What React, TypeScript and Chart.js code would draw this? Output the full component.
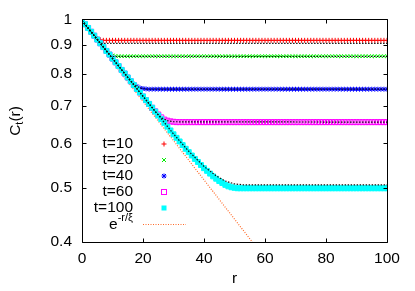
import React, { useEffect, useRef } from 'react';
import { Chart, registerables } from 'chart.js';
Chart.register(...registerables);

// r grid (categories along the x axis)
const R = Array.from({ length: 101 }, (_, i) => i);

const T10 = [
  1.000, 0.980, 0.965, 0.950, 0.935, 0.924, 0.919, 0.917, 0.917, 0.917,
  0.917, 0.917, 0.917, 0.917, 0.917, 0.917, 0.917, 0.917, 0.917, 0.917,
  0.917, 0.917, 0.917, 0.917, 0.917, 0.917, 0.917, 0.917, 0.917, 0.917,
  0.917, 0.917, 0.917, 0.917, 0.917, 0.917, 0.917, 0.917, 0.917, 0.917,
  0.917, 0.917, 0.917, 0.917, 0.917, 0.917, 0.917, 0.917, 0.917, 0.917,
  0.917, 0.917, 0.917, 0.917, 0.917, 0.917, 0.917, 0.917, 0.917, 0.917,
  0.917, 0.917, 0.917, 0.917, 0.917, 0.917, 0.917, 0.917, 0.917, 0.917,
  0.917, 0.917, 0.917, 0.917, 0.917, 0.917, 0.917, 0.917, 0.917, 0.917,
  0.917, 0.917, 0.917, 0.917, 0.917, 0.917, 0.917, 0.917, 0.917, 0.917,
  0.917, 0.917, 0.917, 0.917, 0.917, 0.917, 0.917, 0.917, 0.917, 0.917,
  0.917,
];

const T20 = [
  1.000, 0.980, 0.965, 0.950, 0.935, 0.920, 0.906, 0.893, 0.880, 0.868,
  0.862, 0.860, 0.859, 0.859, 0.859, 0.859, 0.859, 0.859, 0.859, 0.859,
  0.859, 0.859, 0.859, 0.859, 0.859, 0.859, 0.859, 0.859, 0.859, 0.859,
  0.859, 0.859, 0.859, 0.859, 0.859, 0.859, 0.859, 0.859, 0.859, 0.859,
  0.859, 0.859, 0.859, 0.859, 0.859, 0.859, 0.859, 0.859, 0.859, 0.859,
  0.859, 0.859, 0.859, 0.859, 0.859, 0.859, 0.859, 0.859, 0.859, 0.859,
  0.859, 0.859, 0.859, 0.859, 0.859, 0.859, 0.859, 0.859, 0.859, 0.859,
  0.859, 0.859, 0.859, 0.859, 0.859, 0.859, 0.859, 0.859, 0.859, 0.859,
  0.859, 0.859, 0.859, 0.859, 0.859, 0.859, 0.859, 0.859, 0.859, 0.859,
  0.859, 0.859, 0.859, 0.859, 0.859, 0.859, 0.859, 0.859, 0.859, 0.859,
  0.859,
];

const T40 = [
  1.000, 0.980, 0.965, 0.950, 0.935, 0.920, 0.906, 0.892, 0.878, 0.865,
  0.851, 0.838, 0.825, 0.812, 0.800, 0.788, 0.777, 0.767, 0.759, 0.754,
  0.752, 0.751, 0.750, 0.750, 0.750, 0.750, 0.750, 0.750, 0.750, 0.750,
  0.750, 0.750, 0.750, 0.750, 0.750, 0.750, 0.750, 0.750, 0.750, 0.750,
  0.750, 0.750, 0.750, 0.750, 0.750, 0.750, 0.750, 0.750, 0.750, 0.750,
  0.750, 0.750, 0.750, 0.750, 0.750, 0.750, 0.750, 0.750, 0.750, 0.750,
  0.750, 0.750, 0.750, 0.750, 0.750, 0.750, 0.750, 0.750, 0.750, 0.750,
  0.750, 0.750, 0.750, 0.750, 0.750, 0.750, 0.750, 0.750, 0.750, 0.750,
  0.750, 0.750, 0.750, 0.750, 0.750, 0.750, 0.750, 0.750, 0.750, 0.750,
  0.750, 0.750, 0.750, 0.750, 0.750, 0.750, 0.750, 0.750, 0.750, 0.750,
  0.750,
];

const T60 = [
  1.000, 0.980, 0.965, 0.950, 0.935, 0.920, 0.906, 0.892, 0.878, 0.865,
  0.851, 0.838, 0.825, 0.812, 0.800, 0.787, 0.775, 0.763, 0.751, 0.740,
  0.728, 0.717, 0.706, 0.695, 0.685, 0.676, 0.668, 0.662, 0.659, 0.657,
  0.656, 0.655, 0.655, 0.655, 0.655, 0.655, 0.655, 0.655, 0.655, 0.655,
  0.655, 0.655, 0.655, 0.655, 0.655, 0.655, 0.655, 0.655, 0.655, 0.655,
  0.655, 0.655, 0.655, 0.655, 0.655, 0.655, 0.655, 0.655, 0.655, 0.655,
  0.655, 0.655, 0.655, 0.655, 0.655, 0.655, 0.655, 0.655, 0.655, 0.655,
  0.655, 0.655, 0.655, 0.655, 0.655, 0.655, 0.655, 0.655, 0.655, 0.655,
  0.655, 0.655, 0.655, 0.655, 0.655, 0.655, 0.655, 0.655, 0.655, 0.655,
  0.655, 0.655, 0.655, 0.655, 0.655, 0.655, 0.655, 0.655, 0.655, 0.655,
  0.655,
];

const T100 = [
  1.000, 0.980, 0.965, 0.950, 0.935, 0.920, 0.906, 0.892, 0.878, 0.865,
  0.851, 0.838, 0.825, 0.812, 0.800, 0.787, 0.775, 0.763, 0.751, 0.740,
  0.728, 0.717, 0.706, 0.695, 0.684, 0.673, 0.663, 0.653, 0.643, 0.633,
  0.623, 0.614, 0.605, 0.596, 0.587, 0.579, 0.571, 0.563, 0.556, 0.549,
  0.542, 0.536, 0.530, 0.524, 0.519, 0.514, 0.510, 0.506, 0.503, 0.501,
  0.500, 0.499, 0.499, 0.499, 0.499, 0.499, 0.499, 0.499, 0.499, 0.499,
  0.499, 0.499, 0.499, 0.499, 0.499, 0.499, 0.499, 0.499, 0.499, 0.499,
  0.499, 0.499, 0.499, 0.499, 0.499, 0.499, 0.499, 0.499, 0.499, 0.499,
  0.499, 0.499, 0.499, 0.499, 0.499, 0.499, 0.499, 0.499, 0.499, 0.499,
  0.499, 0.499, 0.499, 0.499, 0.499, 0.499, 0.499, 0.499, 0.499, 0.499,
  0.499,
];

// black dotted fit curves (sparse knots)
const FIT10_R = [0, 6, 100];
const FIT10_V = [0.995, 0.906, 0.906];
const FIT20_R = [0, 9.5, 100];
const FIT20_V = [0.995, 0.858, 0.858];
const FIT40_R = [0, 15, 17, 19, 21, 100];
const FIT40_V = [0.995, 0.787, 0.765, 0.754, 0.750, 0.750];
const FIT60_R = [0, 24, 26, 28, 30, 100];
const FIT60_V = [0.995, 0.684, 0.667, 0.659, 0.656, 0.655];
const FIT100_R = [0, 30, 35, 40, 44, 47, 50, 53, 100];
const FIT100_V = [0.995, 0.624, 0.581, 0.546, 0.525, 0.514, 0.508, 0.506, 0.506];

// exponential reference e^{-r/xi}
const EXP_R = [0, 60];
const EXP_V = [0.985, 0.374];

const X_TICKS = [0, 20, 40, 60, 80, 100];
const Y_TICKS = [0.4, 0.5, 0.6, 0.7, 0.8, 0.9, 1];
const Y_TICK_LABELS = ['0.4', '0.5', '0.6', '0.7', '0.8', '0.9', '1'];
const LABELS = ['t=10', 't=20', 't=40', 't=60', 't=100'];

const FONT = 'Liberation Sans, Arial, sans-serif';
const FS = 15.5;
const C_RED = '#ff0000';
const C_GREEN = '#00ee00';
const C_BLUE = '#0000ff';
const C_MAG = '#ff00ff';
const C_CYAN = '#00ffff';
const C_ORANGE = '#ff6a28';

const pts = (xs: number[], ys: number[]) => xs.map((x, i) => ({ x, y: ys[i] }));

function marker(ctx: CanvasRenderingContext2D, style: string, x: number, y: number, color: string) {
  ctx.save();
  ctx.strokeStyle = color;
  ctx.fillStyle = color;
  ctx.lineWidth = 1;
  ctx.beginPath();
  const r = 2.5;
  if (style === 'cross' || style === 'star') {
    ctx.moveTo(x - r, y); ctx.lineTo(x + r, y);
    ctx.moveTo(x, y - r); ctx.lineTo(x, y + r);
  }
  if (style === 'crossRot' || style === 'star') {
    const d = r * 0.8;
    ctx.moveTo(x - d, y - d); ctx.lineTo(x + d, y + d);
    ctx.moveTo(x - d, y + d); ctx.lineTo(x + d, y - d);
  }
  ctx.stroke();
  if (style === 'rect') ctx.strokeRect(x - 2.5, y - 2.5, 5, 5);
  if (style === 'rectFill') ctx.fillRect(x - 2.5, y - 2.5, 5, 5);
  ctx.restore();
}

const overlay = {
  id: 'overlay',
  afterDraw(chart: any) {
    const { ctx, chartArea: a, scales } = chart;
    const xs = scales.x, ys = scales.y;
    ctx.save();
    ctx.strokeStyle = '#000';
    ctx.lineWidth = 1;
    ctx.beginPath();
    const L = Math.round(a.left) + 0.5, Rr = Math.round(a.right) + 0.5;
    const T = Math.round(a.top) + 0.5, B = Math.round(a.bottom) + 0.5;
    ctx.moveTo(L, T); ctx.lineTo(Rr, T); ctx.lineTo(Rr, B); ctx.lineTo(L, B); ctx.closePath();
    for (const v of X_TICKS) {
      const px = Math.round(xs.getPixelForValue(v)) + 0.5;
      ctx.moveTo(px, B); ctx.lineTo(px, B - 4);
      ctx.moveTo(px, T); ctx.lineTo(px, T + 4);
    }
    for (const v of Y_TICKS) {
      const py = Math.round(ys.getPixelForValue(v)) + 0.5;
      ctx.moveTo(L, py); ctx.lineTo(L + 4, py);
      ctx.moveTo(Rr, py); ctx.lineTo(Rr - 4, py);
    }
    ctx.stroke();

    // legend
    const styles = ['cross', 'crossRot', 'star', 'rect', 'rectFill'];
    const colors = [C_RED, C_GREEN, C_BLUE, C_MAG, C_CYAN];
    ctx.fillStyle = '#000';
    ctx.textBaseline = 'middle';
    ctx.textAlign = 'right';
    ctx.font = `${FS}px ${FONT}`;
    const textRight = 133, sampleX = 164, y0 = 144, dy = 16;
    LABELS.forEach((lab, i) => {
      const y = y0 + dy * i;
      ctx.fillText(lab, textRight, y);
      marker(ctx, styles[i], sampleX, y, colors[i]);
    });
    const ye = y0 + dy * 5;
    ctx.textAlign = 'left';
    ctx.font = `11px ${FONT}`;
    const sup = '-r/ξ';
    const wSup = ctx.measureText(sup).width;
    ctx.font = `${FS}px ${FONT}`;
    const wE = ctx.measureText('e').width;
    ctx.fillText('e', textRight - wSup - wE, ye + 1);
    ctx.font = `11px ${FONT}`;
    ctx.fillText(sup, textRight - wSup, ye - 6);
    ctx.save();
    ctx.strokeStyle = C_ORANGE;
    ctx.setLineDash([1, 1.5]);
    ctx.beginPath();
    ctx.moveTo(143, ye + 0.5); ctx.lineTo(186, ye + 0.5);
    ctx.stroke();
    ctx.restore();

    // axis titles
    ctx.textAlign = 'center';
    ctx.font = `${FS}px ${FONT}`;
    ctx.fillText('r', (a.left + a.right) / 2, 279);

    ctx.save();
    ctx.translate(16, 121);
    ctx.rotate(-Math.PI / 2);
    ctx.textAlign = 'left';
    ctx.font = `${FS}px ${FONT}`;
    const wC = ctx.measureText('C').width;
    const wR = ctx.measureText('(r)').width;
    ctx.font = `11px ${FONT}`;
    const wT = ctx.measureText('t').width;
    const start = -(wC + wT + wR) / 2;
    ctx.font = `${FS}px ${FONT}`;
    ctx.fillText('C', start, 0);
    ctx.font = `11px ${FONT}`;
    ctx.fillText('t', start + wC, 4);
    ctx.font = `${FS}px ${FONT}`;
    ctx.fillText('(r)', start + wC + wT, 0);
    ctx.restore();

    ctx.restore();
  },
};

export default function App() {
  const ref = useRef<HTMLCanvasElement>(null);
  useEffect(() => {
    document.body.style.margin = '0';
    const scatter = (label: string, vals: number[], style: string, color: string, order: number, fill: string) => ({
      label,
      data: pts(R, vals),
      showLine: false,
      pointStyle: style,
      pointRadius: style === 'rect' ? 3.5 : 2.5,
      pointBorderWidth: 1,
      pointBorderColor: color,
      pointBackgroundColor: fill,
      borderColor: color,
      order,
    });
    const fit = (xs: number[], vs: number[]) => ({
      label: 'fit',
      data: pts(xs, vs),
      showLine: true,
      pointRadius: 0,
      borderColor: '#111',
      borderWidth: 1.2,
      borderDash: [1.5, 1.5],
      order: 0,
    });
    const chart = new Chart(ref.current!, {
      type: 'scatter',
      data: {
        datasets: [
          scatter(LABELS[0], T10, 'cross', C_RED, 6, C_RED),
          scatter(LABELS[1], T20, 'crossRot', C_GREEN, 5, C_GREEN),
          scatter(LABELS[2], T40, 'star', C_BLUE, 4, C_BLUE),
          scatter(LABELS[3], T60, 'rect', C_MAG, 3, 'rgba(0,0,0,0)'),
          { ...scatter(LABELS[4], T100, 'rect', C_CYAN, 2, C_CYAN), pointRadius: 3.5 },
          {
            label: 'exp',
            data: pts(EXP_R, EXP_V),
            showLine: true,
            pointRadius: 0,
            borderColor: C_ORANGE,
            borderWidth: 1.2,
            borderDash: [1, 1.5],
            order: 7,
          },
          fit(FIT10_R, FIT10_V),
          fit(FIT20_R, FIT20_V),
          fit(FIT40_R, FIT40_V),
          fit(FIT60_R, FIT60_V),
          fit(FIT100_R, FIT100_V),
        ] as any,
      },
      options: {
        animation: false,
        responsive: false,
        devicePixelRatio: 1,
        layout: { padding: { top: 19, right: 28, left: 0, bottom: 0 } },
        plugins: { legend: { display: false }, tooltip: { enabled: false } },
        scales: {
          x: {
            type: 'linear',
            min: 0,
            max: 100,
            grid: { display: false, drawTicks: false },
            border: { display: false },
            afterFit: (s: any) => { s.height = 49; },
            afterBuildTicks: (s: any) => { s.ticks = X_TICKS.map((v) => ({ value: v })); },
            ticks: { padding: 7, color: '#000', font: { family: FONT, size: FS }, maxRotation: 0, callback: (v: any) => String(v) },
          },
          y: {
            type: 'logarithmic',
            min: 0.4,
            max: 1,
            grid: { display: false, drawTicks: false },
            border: { display: false },
            afterFit: (s: any) => { s.width = 82; },
            afterBuildTicks: (s: any) => { s.ticks = Y_TICKS.map((v) => ({ value: v })); },
            ticks: {
              padding: 10,
              color: '#000',
              font: { family: FONT, size: FS },
              callback: (v: any) => {
                const i = Y_TICKS.findIndex((t) => Math.abs(t - Number(v)) < 1e-9);
                return i >= 0 ? Y_TICK_LABELS[i] : '';
              },
            },
          },
        },
      } as any,
      plugins: [overlay as any],
    });
    return () => chart.destroy();
  }, []);
  return (
    <div style={{ width: 415, height: 291 }}>
      <canvas ref={ref} width={415} height={291} style={{ display: 'block', width: 415, height: 291 }} />
    </div>
  );
}
